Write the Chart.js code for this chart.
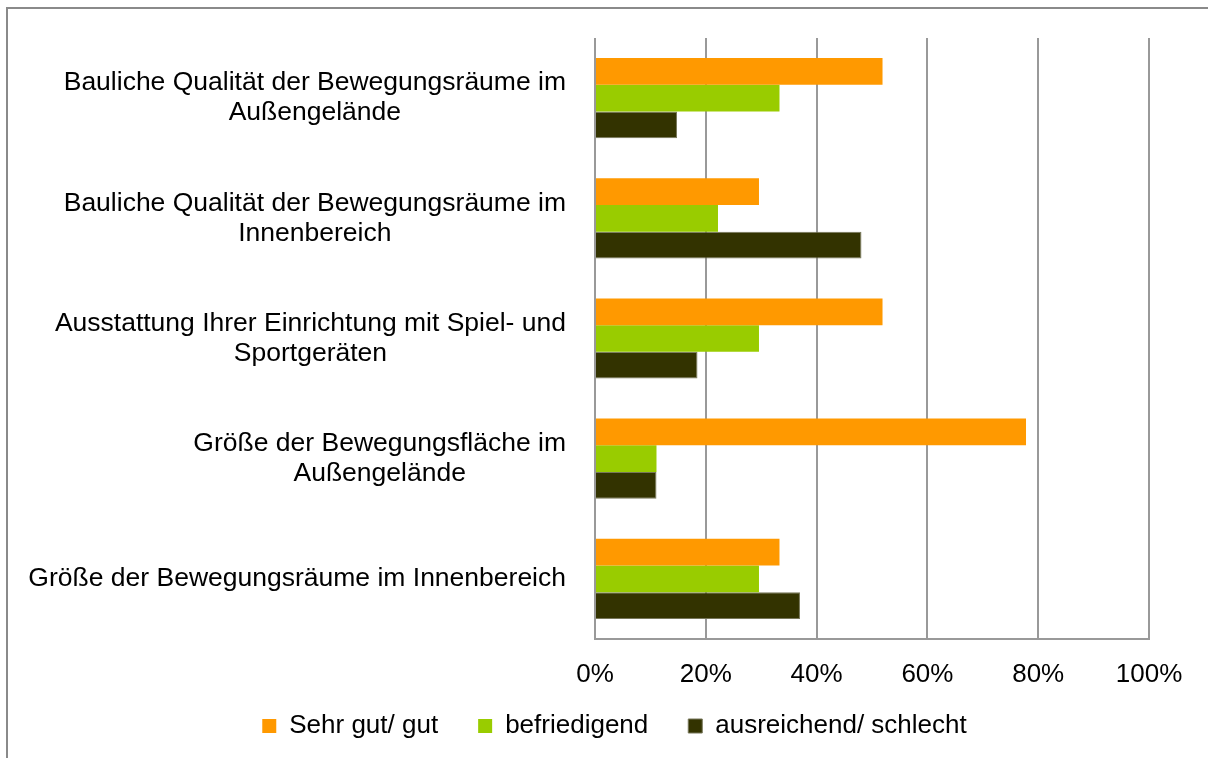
<!DOCTYPE html>
<html>
<head>
<meta charset="utf-8">
<script src="https://cdn.jsdelivr.net/npm/chart.js@4/dist/chart.umd.min.js"></script>
<style>
  html, body { margin: 0; padding: 0; background: #fff; }
  #wrap { position: relative; width: 1208px; height: 758px; overflow: hidden; }
  #frame { position: absolute; left: 6px; top: 7px; width: 1400px; height: 1000px; border: 2px solid #8a8a8a; box-sizing: border-box; }
  #c { position: absolute; left: 0; top: 0; }
</style>
</head>
<body>
<div id="wrap">
  <div id="frame"></div>
  <canvas id="c" width="1208" height="758"></canvas>
</div>
<script>
const categories = [
  ["Bauliche Qualität der Bewegungsräume im", "Außengelände"],
  ["Bauliche Qualität der Bewegungsräume im", "Innenbereich"],
  ["Ausstattung Ihrer Einrichtung mit Spiel- und", "Sportgeräten"],
  ["Größe der Bewegungsfläche im", "Außengelände"],
  ["Größe der Bewegungsräume im Innenbereich"]
];
const seriesNames = ["Sehr gut/ gut", "befriedigend", "ausreichend/ schlecht"];
const sehrGutGut = [51.9, 29.6, 51.9, 77.8, 33.3];
const befriedigend = [33.3, 22.2, 29.6, 11.1, 29.6];
const ausreichendSchlecht = [14.8, 48.1, 18.5, 11.1, 37.0];
const xTicks = [0, 20, 40, 60, 80, 100];

const FONT = '"Liberation Sans", Arial, sans-serif';
const FS = 26;
const LABEL_FS = 26.5;

const catLabelPlugin = {
  id: 'catLabels',
  afterLayout(chart) {
    // let the x tick labels extend below the (compact) x scale box without clipping
    chart.scales.x.bottom = chart.scales.x.top + 60;
  },
  afterDraw(chart) {
    const ctx = chart.ctx;
    const ys = chart.scales.y;
    const right = 566;
    const lineH = 30;
    ctx.save();
    ctx.font = LABEL_FS + 'px ' + FONT;
    ctx.fillStyle = '#000';
    ctx.textAlign = 'center';
    ctx.textBaseline = 'middle';
    categories.forEach((lines, i) => {
      const cy = ys.getPixelForValue(i);
      const w = Math.max(...lines.map(l => ctx.measureText(l).width));
      const cx = right - w / 2;
      lines.forEach((l, j) => {
        ctx.fillText(l, cx, cy + (j - (lines.length - 1) / 2) * lineH);
      });
    });
    ctx.restore();
  }
};

new Chart(document.getElementById('c'), {
  type: 'bar',
  data: {
    labels: categories,
    datasets: [
      { label: seriesNames[0], data: sehrGutGut, backgroundColor: '#FF9900', borderWidth: 0 },
      { label: seriesNames[1], data: befriedigend, backgroundColor: '#99CC00', borderWidth: 0 },
      { label: seriesNames[2], data: ausreichendSchlecht, backgroundColor: '#333300', borderColor: '#77775a', borderWidth: 1, borderSkipped: 'start' }
    ]
  },
  options: {
    indexAxis: 'y',
    responsive: false,
    animation: false,
    devicePixelRatio: 1,
    layout: { padding: { left: 80, right: 59, top: 38, bottom: 9 } },
    datasets: { bar: { categoryPercentage: 0.667, barPercentage: 1.0 } },
    scales: {
      x: {
        min: 0, max: 100,
        afterBuildTicks(scale) { scale.ticks = xTicks.map(v => ({ value: v })); },
        ticks: {
          callback: v => v + '%',
          color: '#000',
          font: { family: FONT, size: FS },
          padding: 20
        },
        grid: { color: '#999999', lineWidth: 2, drawTicks: false },
        border: { color: '#999999', width: 2 },
        afterFit(scale) { scale.height = 34; }
      },
      y: {
        ticks: { display: false },
        grid: { display: false, drawTicks: false },
        border: { display: false },
        afterFit(scale) { scale.width = 515; }
      }
    },
    plugins: {
      legend: {
        position: 'bottom',
        labels: {
          color: '#000',
          font: { family: FONT, size: FS },
          boxWidth: 14,
          boxHeight: 14,
          padding: 40
        }
      },
      tooltip: { enabled: false }
    }
  },
  plugins: [catLabelPlugin]
});
</script>
</body>
</html>
